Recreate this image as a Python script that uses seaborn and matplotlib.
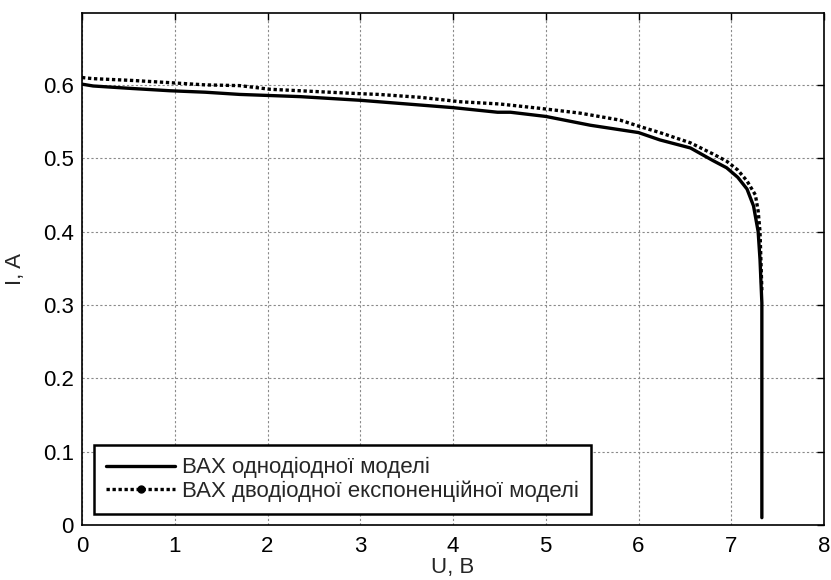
import matplotlib
matplotlib.use("Agg")
import matplotlib.pyplot as plt
from matplotlib.lines import Line2D
import seaborn as sns
import pandas as pd

# ---- data ----
U_one = [0, 0.12, 0.55, 0.95, 1.33, 1.7, 2.35, 3.0, 3.5, 4.0, 4.48, 4.62, 5.0,
         5.48, 6.0, 6.23, 6.56, 6.8, 6.95, 7.07, 7.17, 7.24, 7.29, 7.31, 7.33, 7.33]
I_one = [0.601, 0.5985, 0.595, 0.592, 0.59, 0.587, 0.584, 0.579, 0.574, 0.569,
         0.5627, 0.5627, 0.557, 0.545, 0.535, 0.525, 0.514, 0.497, 0.487, 0.474,
         0.458, 0.435, 0.400, 0.362, 0.303, 0.01]

U_two = [0, 0.12, 0.55, 0.95, 1.33, 1.7, 2.03, 2.35, 2.67, 3.0, 3.2, 3.65, 4.08,
         4.5, 4.94, 5.37, 5.8, 6.02, 6.23, 6.56, 6.8, 6.95, 7.07, 7.17, 7.26, 7.29,
         7.31, 7.33]
I_two = [0.61, 0.6085, 0.606, 0.603, 0.6, 0.599, 0.594, 0.592, 0.59, 0.588,
         0.587, 0.583, 0.577, 0.574, 0.568, 0.5615, 0.552, 0.543, 0.535, 0.521,
         0.506, 0.496, 0.484, 0.469, 0.450, 0.428, 0.400, 0.32]

labels = ["ВАХ однодіодної моделі", "ВАХ дводіодної експоненційної моделі"]
x_ticks = [0, 1, 2, 3, 4, 5, 6, 7, 8]
y_ticks = [0, 0.1, 0.2, 0.3, 0.4, 0.5, 0.6]
y_tick_labels = ["0", "0.1", "0.2", "0.3", "0.4", "0.5", "0.6"]
x_label = "U, B"
y_label = "I, A"

sns.set_style("white")
plt.rcParams["font.family"] = ["Liberation Sans", "DejaVu Sans"]

fig = plt.figure(figsize=(8.31, 5.80), dpi=100)
ax = fig.add_axes([82 / 831, 55 / 580, (824 - 82) / 831, (525 - 13) / 580])

df1 = pd.DataFrame({"U": U_one, "I": I_one})
df2 = pd.DataFrame({"U": U_two, "I": I_two})
sns.lineplot(data=df1, x="U", y="I", sort=False, estimator=None, ax=ax,
             color="black", lw=2.4, zorder=4)
sns.lineplot(data=df2, x="U", y="I", sort=False, estimator=None, ax=ax,
             color="black", lw=2.4, ls=(0, (1, 0.8)), zorder=3)

ax.set_xlim(0, 8)
ax.set_ylim(0, 0.698)
ax.set_xticks(x_ticks)
ax.set_xticklabels([str(t) for t in x_ticks])
ax.set_yticks(y_ticks)
ax.set_yticklabels(y_tick_labels)
ax.tick_params(direction="in", length=5, width=1, top=True, right=True,
               labelsize=16, colors="black")
ax.tick_params(axis="x", pad=8)
ax.tick_params(axis="y", pad=6)
ax.grid(True, color="#8a8a8a", ls=(0, (2, 2)), lw=0.8)
for s in ax.spines.values():
    s.set_visible(True)
    s.set_color("black")
    s.set_linewidth(1.2)

ax.set_xlabel(x_label, fontsize=16, labelpad=0)
ax.set_ylabel(y_label, fontsize=16, labelpad=12)

handles = [Line2D([], [], color="black", lw=2.4),
           Line2D([], [], color="black", lw=2.4, ls=(0, (1, 0.8)),
                  marker="o", markersize=5)]
leg = ax.legend(handles, labels, loc="lower left", fontsize=16, numpoints=1,
                frameon=True, fancybox=False, framealpha=1, borderpad=0.55,
                handlelength=3.1, handletextpad=0.3, labelspacing=0.08,
                borderaxespad=0.0, bbox_to_anchor=(0.016, 0.0215))
leg.get_frame().set_edgecolor("black")
leg.get_frame().set_linewidth(1.8)

fig.savefig("out.png", dpi=100)
